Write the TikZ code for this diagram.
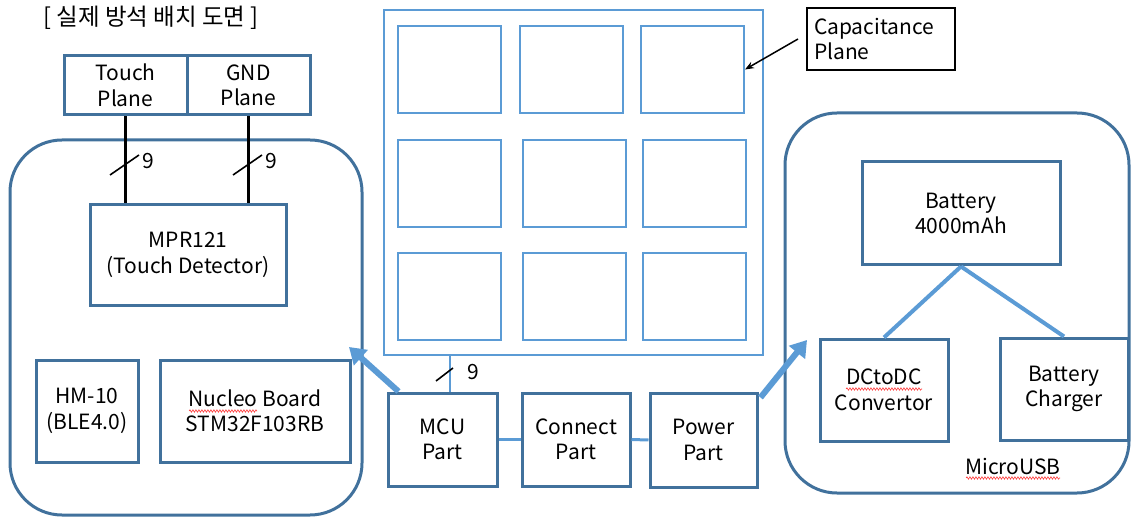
\documentclass[tikz,border=0pt]{standalone}
\usepackage{fontspec}
\setmainfont{Noto Sans CJK KR}
\usetikzlibrary{arrows.meta,decorations.pathmorphing}
\definecolor{dblue}{HTML}{41719C}
\definecolor{lblue}{HTML}{5B9BD5}
\begin{document}
\begin{tikzpicture}[x=1pt,y=-1pt,
  box/.style={draw=dblue, line width=3pt, align=center, inner sep=0pt, font=\fontsize{21}{25.5}\selectfont},
  cell/.style={draw=lblue, line width=2pt, minimum width=103pt, minimum height=87pt, inner sep=0pt},
  group/.style={draw=dblue, line width=3pt, rounded corners=52pt},
  wire/.style={line width=3pt, black},
  slash/.style={line width=1.6pt, black},
  lbl/.style={font=\fontsize{21}{24}\selectfont, inner sep=0pt},
  bigarrow/.style={draw=lblue, line width=6pt, -{Triangle[length=16pt,width=20pt]}},
  tie/.style={draw=lblue, line width=4pt},
  spell/.style={draw=red!80, line width=0.6pt, decorate, decoration={snake, amplitude=1.2pt, segment length=3pt}}]
\useasboundingbox (0,0) rectangle (1131,518);
% title
\node[lbl, font=\fontsize{23.5}{26}\selectfont] (title) at (151,18) {[ 실제 방석 배치 도면 ]};
% groups
\draw[group] (10,140) rectangle (362,515);
\draw[group] (785,113) rectangle (1129,493);
% left side
\node[box, minimum width=123pt, minimum height=59pt] (touch) at (125.5,85.5) {Touch\\Plane};
\node[box, minimum width=123pt, minimum height=59pt] (gnd) at (248.5,85.5) {GND\\Plane};
\node[box, minimum width=196pt, minimum height=100pt] (mpr) at (188,255) {MPR121\\(Touch Detector)};
\node[box, minimum width=102pt, minimum height=102pt] (hm) at (87,411) {HM-10\\(BLE4.0)};
\node[box, minimum width=190pt, minimum height=102pt] (nucleo) at (255,411) {Nucleo Board\\STM32F103RB};
\draw[wire] (touch.south) -- (touch.south |- mpr.north);
\draw[wire] (gnd.south) -- (gnd.south |- mpr.north);
\draw[slash] (110,175) -- (139,155);
\draw[slash] (233,175) -- (262,155);
\node[lbl] (n9a) at (148,161) {9};
\node[lbl] (n9b) at (271,161) {9};
% capacitance plane
\node[draw=lblue, line width=2pt, minimum width=379pt, minimum height=345pt, inner sep=0pt] (cap) at (573.5,182.5) {};
\node[cell] (c11) at (449.5,69.5) {};
\node[cell] (c12) at (571,69.5) {};
\node[cell] (c13) at (692.5,69.5) {};
\node[cell] (c21) at (449.5,183.5) {};
\node[cell] (c22) at (574,183.5) {};
\node[cell] (c23) at (694.5,183.5) {};
\node[cell] (c31) at (449.5,296.5) {};
\node[cell] (c32) at (574,296.5) {};
\node[cell] (c33) at (694.5,296.5) {};
\node[draw=black, line width=2pt, minimum width=148pt, minimum height=62pt, text width=134pt, align=left, inner sep=0pt, font=\fontsize{21}{25}\selectfont] (caplbl) at (881,39) {Capacitance\\Plane};
\draw[line width=1.5pt, -{Stealth[length=9pt,width=7pt]}] ([xshift=-8pt]caplbl.west) -- (c13.east);
% bottom parts
\node[box, minimum width=109pt, minimum height=93pt] (mcu) at (442.5,439.5) {MCU\\Part};
\node[box, minimum width=108pt, minimum height=93pt] (conn) at (576,439.5) {Connect\\Part};
\node[box, minimum width=107pt, minimum height=94pt] (power) at (703.5,440) {Power\\Part};
\draw[draw=lblue, line width=3pt] (mcu.east) -- (conn.west);
\draw[draw=lblue, line width=3pt] (conn.east) -- (power.west);
\draw[draw=lblue, line width=2.5pt] (cap.south -| 450,0) -- (mcu.north -| 450,0);
\draw[slash] (436,381) -- (453,368);
\node[lbl] (n9c) at (473,372) {9};
\draw[bigarrow] (mcu.north west) ++(12pt,0) -- (349,347);
\draw[bigarrow] (power.north east) ++(2pt,-6pt) -- (807,340);
% right side
\node[box, minimum width=198pt, minimum height=103pt] (batt) at (961,213.5) {Battery\\4000mAh};
\node[box, minimum width=128pt, minimum height=102pt] (dcdc) at (884,390) {DCtoDC\\Convertor};
\node[box, minimum width=128pt, minimum height=102pt] (chg) at (1064,389) {Battery\\Charger};
\draw[tie] (batt.south) -- (dcdc.north);
\draw[tie] (batt.south) -- (chg.north);
\node[lbl] (usb) at (1013,466) {MicroUSB};
% spell-check underlines
\draw[spell] (189,411) -- (257,411);
\draw[spell] (846,389) -- (922,389);
\draw[spell] (966,478) -- (1060,478);
\end{tikzpicture}
\end{document}
